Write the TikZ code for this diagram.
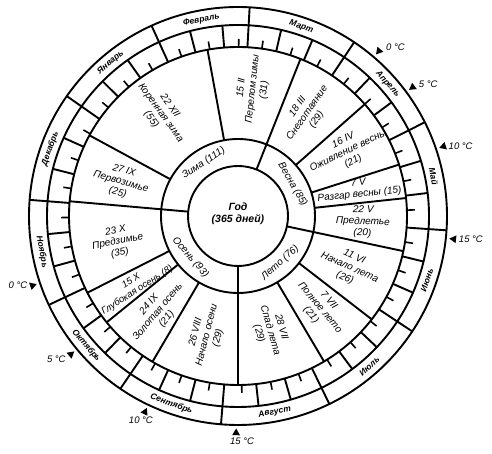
\documentclass[tikz,border=0pt]{standalone}
\usepackage{fontspec}
\setmainfont{Liberation Sans}
\usepackage{tikz}
\usetikzlibrary{calc, positioning, shapes.geometric}

\begin{document}
\begin{tikzpicture}[
      x=1pt, y=1pt,
      ring/.style={line width=1.9pt},
      tickline/.style={line width=1.6pt},
      monthname/.style={font=\fontsize{8.5}{10}\selectfont\bfseries\itshape, inner sep=0pt},
      seasonname/.style={font=\fontsize{10}{11}\selectfont\itshape, inner sep=0pt},
      phase/.style={font=\fontsize{10}{11.5}\selectfont\itshape, align=center, inner sep=0pt},
      templab/.style={font=\fontsize{9.5}{10}\selectfont\itshape, inner sep=0pt},
      marker/.style={regular polygon, regular polygon sides=3, fill, inner sep=0pt, minimum size=9pt}
    ]
\useasboundingbox (0,0) rectangle (492,454);

\begin{scope}[shift={(238,238)}]
  \coordinate (O) at (0,0);

% Circles
  \foreach \r in {209,191,169,77,50}
    \draw[ring] (O) circle (\r);

% Months, decades and pentads (one day = 0.9863 deg)
  \foreach \s in {0,31,59,90,120,151,181,212,243,273,304,334}{
    \draw[ring] ({145-\s*0.9863}:169) -- ({145-\s*0.9863}:209);
    \foreach \k in {10,20}
      \draw[ring] ({145-(\s+\k)*0.9863}:169) -- ({145-(\s+\k)*0.9863}:191);
    \foreach \k in {5,15,25}
      \draw[tickline] ({145-(\s+\k)*0.9863}:169) -- ({145-(\s+\k)*0.9863}:177);
  }

% Seasons and their phases
  \foreach \a in {175,68.3,-12,-90}
    \draw[ring] (\a:50) -- (\a:169);
  \foreach \a in {151.5,100.4,41.4,17.7,6.1,-37.7,-59.4,-120.4,-141,-153}
    \draw[ring] (\a:77) -- (\a:169);

% Month names
  \foreach \a/\r/\txt [count=\i] in {129.7/39.7/Январь, 100.6/10.6/Февраль, 71.5/-18.5/Март,
      41.4/-48.6/Апрель, 11.4/-78.6/Май, -18.7/71.3/Июнь, -48.8/41.2/Июль,
      -79.4/10.6/Август, -109.5/-19.5/Сентябрь, -139.5/-49.5/Октябрь,
      -169.6/-79.6/Ноябрь, 160.3/70.3/Декабрь}
    \node[monthname, rotate=\r] (m\i) at (\a:199.5) {\txt};

% Center
  \node[font=\fontsize{10.5}{12.5}\selectfont\bfseries\itshape, align=center] (year) at (0,2) {Год\\(365 дней)};

% Season ring
  \node[seasonname, rotate=33] (winter) at (123:63) {Зима (111)};
  \node[seasonname, rotate=-60] (spring) at (30:63) {Весна (85)};
  \node[seasonname, rotate=42] (summer) at (-48:63) {Лето (76)};
  \node[seasonname, rotate=-49] (autumn) at (221:63) {Осень (93)};

% Phases
  \node[phase, rotate=-16] (p1) at (163.8:122) {27 IX\\Первозимье\\(25)};
  \node[phase, rotate=-54] (p2) at (126.9:129) {22 XII\\Коренная зима\\(55)};
  \node[phase, rotate=84] (p3) at (83.3:128) {15 II\\Перелом зимы\\(31)};
  \node[phase, rotate=55] (p4) at (56:124) {18 III\\Снеготаяние\\(29)};
  \node[phase, rotate=26] (p5) at (30.5:128) {16 IV\\Оживление весны\\(21)};
  \node[phase, rotate=6] (p6) at (12.6:124) {7 V\\Разгар весны (15)};
  \node[phase, rotate=-2] (p7) at (-2.7:125) {22 V\\Предлетье\\(20)};
  \node[phase, rotate=-24] (p8) at (-24.9:123) {11 VI\\Начало лета\\(26)};
  \node[phase, rotate=-50] (p9) at (-48.3:123) {7 VII\\Полное лето\\(21)};
  \node[phase, rotate=-74] (p10) at (-74.4:119) {28 VII\\Спад лета\\(29)};
  \node[phase, rotate=76] (p11) at (255.4:123) {26 VIII\\Начало осени\\(29)};
  \node[phase, rotate=50] (p12) at (230.2:125) {24 IX\\Золотая осень\\(21)};
  \node[phase, rotate=33, font=\fontsize{9.5}{11}\selectfont\itshape] (p13) at (214:125) {15 X\\Глубокая осень (8)};
  \node[phase, rotate=11] (p14) at (192.2:123) {23 X\\Предзимье\\(35)};

% Temperature marks
  \foreach \a [count=\i] in {49.5,36.4,18.7,-6.1,-90.5,-115.4,-140.4,-161.3}
    \node[marker, rotate=\a+90] (t\i) at (\a:217) {};
\end{scope}

\node[templab, right=7pt of t1.center, yshift=4pt] (l1) {0 °C};
\node[templab, right=6pt of t2.center, yshift=3pt] (l2) {5 °C};
\node[templab, right=5pt of t3.center] (l3) {10 °C};
\node[templab, right=5pt of t4.center] (l4) {15 °C};
\node[templab, below=5pt of t5.center, xshift=6pt] (l5) {15 °C};
\node[templab, below=5pt of t6.center, xshift=-4pt] (l6) {10 °C};
\node[templab, left=5pt of t7.center, yshift=-5pt] (l7) {5 °C};
\node[templab, left=5pt of t8.center] (l8) {0 °C};
\end{tikzpicture}
\end{document}
